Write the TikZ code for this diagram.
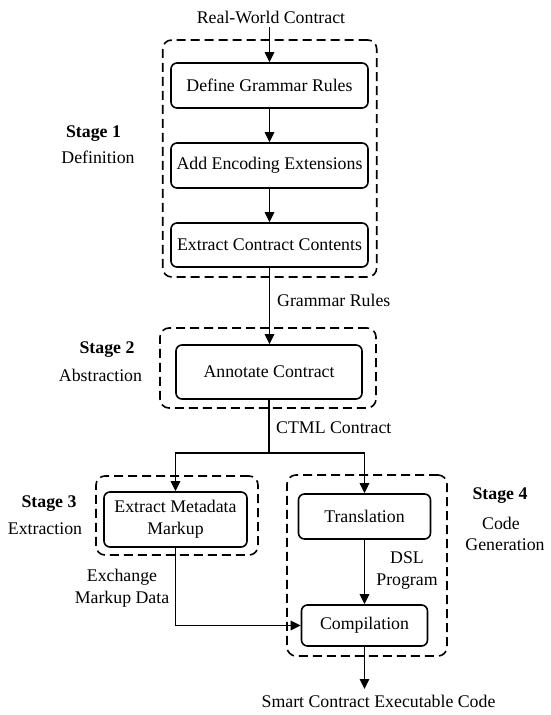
\documentclass[tikz,border=0pt]{standalone}
\usepackage{fontspec}
\setmainfont{Liberation Serif}
\usetikzlibrary{arrows.meta}
\begin{document}
\begin{tikzpicture}[x=1pt,y=-1pt,
  font=\fontsize{17.8}{22}\selectfont,
  proc/.style={draw, rounded corners=6pt, line width=1.6pt, inner sep=0pt, align=center},
  grp/.style={draw, dash pattern=on 9pt off 5pt, rounded corners=9pt, line width=1.6pt, inner sep=0pt},
  lbl/.style={inner sep=0pt, align=center},
  stg/.style={inner sep=0pt, font=\fontsize{17.8}{22}\selectfont\bfseries},
  arr/.style={line width=1.5pt, -{Triangle[length=10pt,width=9.5pt]}},
  ln/.style={line width=1.5pt}]
\path[use as bounding box] (0,0) rectangle (550,715);

% group boxes
\node[grp, minimum width=214pt, minimum height=237pt] (d1) at (269.7,158.5) {};
\node[grp, minimum width=216pt, minimum height=80pt] (d2) at (268,368) {};
\node[grp, minimum width=162pt, minimum height=79pt] (d3) at (177,515.5) {};
\node[grp, minimum width=160pt, minimum height=181pt] (d4) at (367,565.5) {};

% process boxes
\node[proc, minimum width=197pt, minimum height=45pt] (b1) at (269.5,85.5) {Define Grammar Rules};
\node[proc, minimum width=197pt, minimum height=45pt] (b2) at (269.5,165.5) {Add Encoding Extensions};
\node[proc, minimum width=197pt, minimum height=44pt] (b3) at (269.5,245) {Extract Contract Contents};
\node[proc, minimum width=186pt, minimum height=54pt] (b4) at (269,372) {Annotate Contract};
\node[proc, minimum width=143pt, minimum height=55pt] (b5) at (175.5,519.5) {Extract Metadata\\Markup};
\node[proc, minimum width=132pt, minimum height=45pt] (b6) at (364.5,516.5) {Translation};
\node[proc, minimum width=126pt, minimum height=41pt] (b7) at (364.5,625.5) {Compilation};

% text labels
\node[lbl] (rw) at (271,17) {Real-World Contract};
\node[lbl, anchor=west] (gr) at (277,300) {Grammar Rules};
\node[lbl, anchor=west] (ctml) at (276,428) {CTML Contract};
\node[lbl] (exch) at (122,588) {Exchange\\Markup Data};
\node[lbl] (dsl) at (407,571) {DSL\\Program};
\node[lbl] (out) at (378.5,701) {Smart Contract Executable Code};

% stage labels
\node[stg] (s1) at (93.5,134) {Stage 1};
\node[lbl] (s1b) at (98,157) {Definition};
\node[stg] (s2) at (107,350) {Stage 2};
\node[lbl] (s2b) at (100.5,375) {Abstraction};
\node[stg] (s3) at (49,504) {Stage 3};
\node[lbl] (s3b) at (45,529) {Extraction};
\node[stg] (s4) at (500,496) {Stage 4};
\node[lbl] (s4b) at (501,523) {Code};
\node[lbl] (s4c) at (505,545) {Generation};

% coordinates
\coordinate (rwend) at (269.5,27);
\coordinate (branch) at (269,453);
\coordinate (outend) at (364.5,689);

% connectors
\draw[arr] (rwend) -- (b1.north);
\draw[arr] (b1) -- (b2);
\draw[arr] (b2) -- (b3);
\draw[arr] (b3.south) -- (b3.south |- b4.north);
\draw[ln] (b4.south) -- (branch);
\draw[arr] (branch) -| (b5.north);
\draw[arr] (branch) -| (b6.north);
\draw[arr] (b6) -- (b7);
\draw[arr] (b5.south) |- (b7.west);
\draw[arr] (b7.south) -- (outend);
\end{tikzpicture}
\end{document}
